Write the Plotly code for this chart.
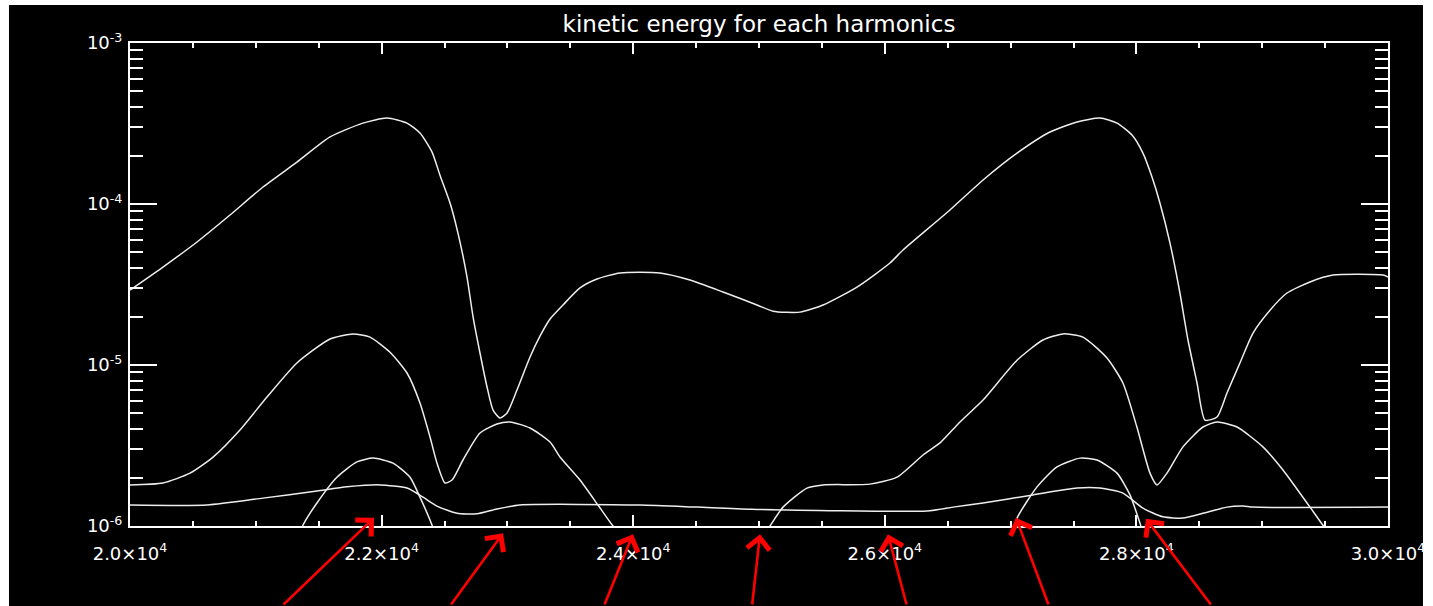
import plotly.graph_objects as go

# ---------------- data ----------------
a_x = [20000, 20262, 20533, 20795, 21057, 21327, 21590, 21852, 22043, 22202, 22305, 22401, 22464,
       22544, 22607, 22679, 22727, 22782, 22838, 22886, 22941, 22997, 23076, 23180, 23259, 23339,
       23442, 23577, 23712, 23895, 24213, 24451, 24714, 24984, 25111, 25326, 25509, 25779, 26041,
       26145, 26518, 26781, 27051, 27313, 27528, 27711, 27846, 27965, 28052, 28124, 28187, 28267,
       28346, 28410, 28482, 28545, 28641, 28720, 28823, 28927, 29062, 29197, 29380, 29563, 29960, 30000]
a_y = [2.92e-5, 4.06e-5, 5.81e-5, 8.54e-5, 1.275e-4, 1.82e-4, 2.61e-4, 3.18e-4, 3.42e-4, 3.18e-4,
       2.76e-4, 2.10e-4, 1.51e-4, 1.015e-4, 6.60e-5, 3.52e-5, 1.99e-5, 1.187e-5, 7.30e-6, 5.25e-6,
       4.69e-6, 5.03e-6, 6.99e-6, 1.121e-5, 1.51e-5, 1.93e-5, 2.36e-5, 3.01e-5, 3.42e-5, 3.73e-5,
       3.73e-5, 3.37e-5, 2.84e-5, 2.36e-5, 2.16e-5, 2.13e-5, 2.36e-5, 3.05e-5, 4.30e-5, 5.18e-5,
       9.18e-5, 1.41e-4, 2.07e-4, 2.80e-4, 3.23e-4, 3.42e-4, 3.18e-4, 2.68e-4, 2.07e-4, 1.47e-4,
       1.015e-4, 5.72e-5, 2.80e-5, 1.43e-5, 7.73e-6, 4.55e-6, 4.75e-6, 6.70e-6, 1.03e-5, 1.58e-5,
       2.19e-5, 2.80e-5, 3.28e-5, 3.62e-5, 3.62e-5, 3.52e-5]

b_x = [20000, 20262, 20477, 20660, 20874, 21089, 21327, 21590, 21773, 21908, 22067, 22202, 22305,
       22385, 22440, 22504, 22560, 22647, 22782, 22917, 23021, 23180, 23339, 23418, 23577, 23720,
       23839, 24000, 24500, 24950, 25087, 25191, 25381, 25509, 25882, 26097, 26304, 26439, 26598,
       26781, 27051, 27257, 27416, 27575, 27766, 27893, 28004, 28108, 28164, 28243, 28370, 28529,
       28641, 28800, 29006, 29165, 29380, 29483, 29700, 30000]
b_y = [1.80e-6, 1.85e-6, 2.13e-6, 2.68e-6, 3.95e-6, 6.33e-6, 1.03e-5, 1.45e-5, 1.56e-5, 1.49e-5,
       1.20e-5, 8.92e-6, 5.81e-6, 3.57e-6, 2.46e-6, 1.85e-6, 1.93e-6, 2.57e-6, 3.78e-6, 4.30e-6,
       4.43e-6, 4.06e-6, 3.32e-6, 2.68e-6, 1.93e-6, 1.35e-6, 1.0e-6, 7.0e-7, 3.0e-7, 7.0e-7,
       1.0e-6, 1.31e-6, 1.72e-6, 1.80e-6, 1.82e-6, 2.01e-6, 2.76e-6, 3.28e-6, 4.43e-6, 6.06e-6,
       1.07e-5, 1.43e-5, 1.56e-5, 1.49e-5, 1.105e-5, 7.73e-6, 4.12e-6, 2.13e-6, 1.80e-6, 2.13e-6,
       3.10e-6, 4.12e-6, 4.43e-6, 4.12e-6, 3.10e-6, 2.23e-6, 1.31e-6, 1.01e-6, 6.0e-7, 3.0e-7]

c_x = [20000, 21000, 21312, 21375, 21486, 21645, 21804, 21932, 22091, 22226, 22305, 22401, 22464,
       23000, 25000, 26900, 26994, 27051, 27210, 27369, 27552, 27687, 27846, 27949, 28029, 28100,
       29000, 30000]
c_y = [2.0e-7, 4.0e-7, 7.0e-7, 1.01e-6, 1.39e-6, 2.01e-6, 2.50e-6, 2.64e-6, 2.46e-6, 2.01e-6,
       1.51e-6, 1.01e-6, 7.0e-7, 3.0e-7, 1.5e-7, 6.0e-7, 8.0e-7, 1.12e-6, 1.75e-6, 2.33e-6,
       2.64e-6, 2.57e-6, 2.13e-6, 1.56e-6, 1.04e-6, 7.0e-7, 3.0e-7, 1.5e-7]

d_x = [20000, 20612, 21057, 21486, 21725, 21987, 22202, 22329, 22440, 22599, 22758, 22917, 23100,
       24054, 24507, 24940, 26335, 26542, 26781, 27178, 27528, 27711, 27893, 28052, 28211,
       28370, 28529, 28720, 28847, 28927, 30000]
d_y = [1.35e-6, 1.35e-6, 1.49e-6, 1.65e-6, 1.75e-6, 1.80e-6, 1.72e-6, 1.51e-6, 1.33e-6, 1.20e-6,
       1.19e-6, 1.275e-6, 1.35e-6, 1.35e-6, 1.31e-6, 1.27e-6, 1.24e-6, 1.31e-6, 1.39e-6,
       1.56e-6, 1.72e-6, 1.72e-6, 1.60e-6, 1.29e-6, 1.14e-6, 1.12e-6, 1.20e-6, 1.31e-6, 1.33e-6,
       1.31e-6, 1.31e-6]

x_tickvals = [20000, 22000, 24000, 26000, 28000, 30000]
x_ticktext = ["2.0×10<sup>4</sup>", "2.2×10<sup>4</sup>", "2.4×10<sup>4</sup>",
              "2.6×10<sup>4</sup>", "2.8×10<sup>4</sup>", "3.0×10<sup>4</sup>"]
y_tickvals = [1e-6, 1e-5, 1e-4, 1e-3]
y_ticktext = ["10<sup>-6</sup>", "10<sup>-5</sup>", "10<sup>-4</sup>", "10<sup>-3</sup>"]
y_minor = [m * 10.0 ** e for e in (-6, -5, -4) for m in range(2, 10)]

# red hand-drawn arrows: tip x (data), tip y (paper), tail offset in pixels
arrow_x = [21940, 22965, 23998, 25008, 26025, 27043, 28076]
arrow_y = [0.017, -0.015, -0.017, -0.017, -0.017, 0.017, 0.015]
arrow_ax = [-92, -53, -29, -8, 19, 33, 66]
arrow_ay = [92, 76, 76, 76, 76, 92, 92]

title_text = "kinetic energy for each harmonics"

# ---------------- figure ----------------
fig = go.Figure()
line_style = dict(color="#eeeeee", width=1.5, shape="spline", smoothing=0.6)
for xs, ys in [(a_x, a_y), (b_x, b_y), (c_x, c_y), (d_x, d_y)]:
    fig.add_trace(go.Scatter(x=xs, y=ys, mode="lines", line=line_style,
                             showlegend=False, hoverinfo="skip"))

for x, y, ax, ay in zip(arrow_x, arrow_y, arrow_ax, arrow_ay):
    fig.add_annotation(x=x, y=y, xref="x", yref="paper", ax=ax, ay=ay, text="",
                       showarrow=True, arrowhead=4, arrowsize=1.7, arrowwidth=2.6,
                       arrowcolor="#ff0000")

fig.add_shape(type="rect", xref="paper", yref="paper", x0=-0.0962, x1=1.0278,
              y0=-0.2, y1=1.0787, fillcolor="black", line=dict(width=0), layer="below")

tick_font = dict(family="DejaVu Sans", size=18, color="white")
fig.update_xaxes(range=[20000, 30000], showgrid=False, zeroline=False, automargin=False,
                 showline=True, linecolor="white", linewidth=2, mirror="ticks",
                 ticks="inside", ticklen=11, tickwidth=1.5, tickcolor="white",
                 tickvals=x_tickvals, ticktext=x_ticktext, tickfont=tick_font,
                 ticklabelstandoff=10,
                 minor=dict(dtick=500, tick0=20000, ticks="inside", ticklen=5,
                            tickwidth=1.5, tickcolor="white", showgrid=False))
fig.update_yaxes(type="log", range=[-6, -3], showgrid=False, zeroline=False, automargin=False,
                 showline=True, linecolor="white", linewidth=2, mirror="ticks",
                 ticks="inside", ticklen=27, tickwidth=1.5, tickcolor="white",
                 tickvals=y_tickvals, ticktext=y_ticktext, tickfont=tick_font,
                 ticklabelstandoff=2,
                 minor=dict(tickvals=y_minor, ticks="inside", ticklen=13,
                            tickwidth=1.5, tickcolor="white", showgrid=False))

fig.update_layout(
    width=1433, height=606,
    margin=dict(l=130, r=45, t=43, b=80, autoexpand=False),
    paper_bgcolor="white", plot_bgcolor="black",
    title=dict(text=title_text, x=0.5, xref="paper", y=1 - 24 / 606, yref="container",
               xanchor="center", yanchor="middle",
               font=dict(family="DejaVu Sans", size=23, color="white")),
)

fig.write_html("out.html")
